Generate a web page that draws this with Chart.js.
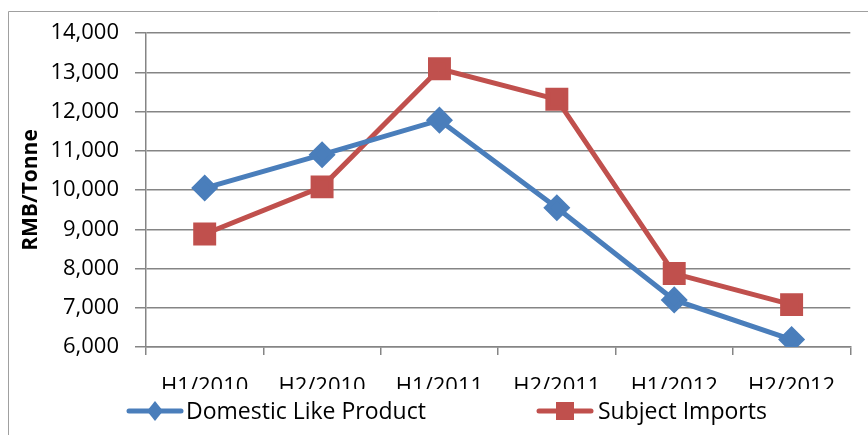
<!DOCTYPE html>
<html>
<head>
<meta charset="utf-8">
<script src="https://cdn.jsdelivr.net/npm/chart.js@4"></script>
<style>
html,body{margin:0;padding:0;background:#fff;}
#wrap{width:868px;height:435px;position:relative;}
</style>
</head>
<body>
<div id="wrap"><canvas id="priceChart" width="868" height="435"></canvas></div>
<script>
const periods=["H1/2010","H2/2010","H1/2011","H2/2011","H1/2012","H2/2012"];
const domesticPrice=[10050,10900,11780,9550,7200,6190];
const importPrice=[8880,10080,13090,12310,7870,7080];
const yTicks=[6000,7000,8000,9000,10000,11000,12000,13000,14000];

const FONT="'Open Sans', 'Liberation Sans', sans-serif";
const GRID="#858585";
const BLUE="#4a7ebb";
const RED="#c0504d";

// frame + hand drawn legend (line with marker, like Excel)
const frameLegend={
id:"frameLegend",
beforeDraw(chart){
const ctx=chart.ctx;
ctx.save();
ctx.fillStyle="#fff";
ctx.fillRect(0,0,chart.width,chart.height);
ctx.restore();
},
afterDraw(chart){
const ctx=chart.ctx;
ctx.save();
// the original cuts the bottom of the tick labels
ctx.fillStyle="#fff";
ctx.fillRect(9,389,chart.width-9,chart.height-389);
ctx.strokeStyle="#a0a0a0";
ctx.lineWidth=1;
ctx.beginPath();
ctx.moveTo(8.5,chart.height);
ctx.lineTo(8.5,11.5);
ctx.lineTo(chart.width,11.5);
ctx.stroke();
const spots=[{x:127,tx:186},{x:537,tx:598}];
chart.data.datasets.forEach((ds,i)=>{
const s=spots[i];
const y=411;
ctx.strokeStyle=ds.borderColor;
ctx.lineWidth=5;
ctx.lineCap="round";
ctx.beginPath();
ctx.moveTo(s.x+2,y);
ctx.lineTo(s.x+54,y);
ctx.stroke();
ctx.fillStyle=ds.backgroundColor;
const cx=s.x+28;
if(ds.pointStyle==="rect"){
ctx.fillRect(cx-9,y-9,18,18);
}else{
ctx.beginPath();
ctx.moveTo(cx,y-10);ctx.lineTo(cx+8,y);ctx.lineTo(cx,y+10);ctx.lineTo(cx-8,y);
ctx.closePath();ctx.fill();
}
ctx.fillStyle="#000";
ctx.font="23px "+FONT;
ctx.textBaseline="middle";
ctx.textAlign="left";
ctx.fillText(ds.label,s.tx,y+1);
});
ctx.restore();
}
};

new Chart(document.getElementById("priceChart"),{
type:"line",
data:{
labels:periods,
datasets:[
{label:"Domestic Like Product",data:domesticPrice,borderColor:BLUE,backgroundColor:BLUE,
borderWidth:5,pointStyle:"rectRot",pointRadius:10,pointHoverRadius:10,tension:0},
{label:"Subject Imports",data:importPrice,borderColor:RED,backgroundColor:RED,
borderWidth:5,pointStyle:"rect",pointRadius:12.7,pointHoverRadius:12.7,tension:0}
]
},
options:{
responsive:false,
animation:false,
layout:{padding:{left:18,right:12,top:33,bottom:40}},
plugins:{legend:{display:false},tooltip:{enabled:false}},
scales:{
x:{
offset:true,
grid:{offset:true,drawOnChartArea:false,drawTicks:true,tickLength:8,color:GRID,lineWidth:1.5},
border:{color:GRID,width:1.5},
ticks:{color:"#000",font:{family:FONT,size:22},padding:19,maxRotation:0,autoSkip:false},
afterFit(scale){scale.height=48;}
},
y:{
min:6000,max:14000,
afterBuildTicks(scale){scale.ticks=yTicks.map(v=>({value:v}));},
grid:{color:GRID,lineWidth:1.5,tickLength:11},
border:{color:GRID,width:1.5},
ticks:{color:"#000",font:{family:FONT,size:22},padding:16,
callback:v=>v.toLocaleString("en-US")},
title:{display:true,text:"RMB/Tonne",color:"#000",font:{family:FONT,size:21,weight:"bold"},padding:{top:0,bottom:0}},
afterFit(scale){scale.width=128;}
}
}
},
plugins:[frameLegend]
});
</script>
</body>
</html>
